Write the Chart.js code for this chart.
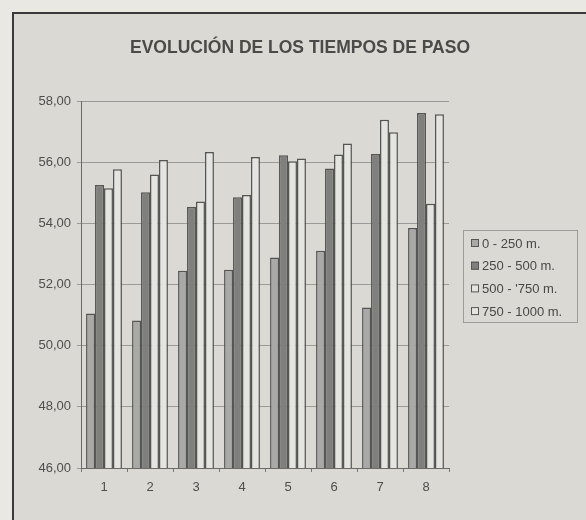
<!DOCTYPE html>
<html>
<head>
<meta charset="utf-8">
<script src="https://cdn.jsdelivr.net/npm/chart.js@4.4.0/dist/chart.umd.min.js"></script>
<style>
    html, body { margin: 0; padding: 0; background: #e9e8e3; }
    #wrap { width: 586px; height: 520px; }
</style>
</head>
<body>
<div id="wrap"><canvas id="tiemposChart" width="586" height="520"></canvas></div>
<script>
// -------------------------------------------------
// Chart data: passing times per 250 m split, 8 repetitions
// -------------------------------------------------
const chartTitle = 'EVOLUCIÓN DE LOS TIEMPOS DE PASO';
const categories = ['1', '2', '3', '4', '5', '6', '7', '8'];
const seriesNames = ['0 - 250 m.', '250 - 500 m.', "500 - '750 m.", '750 - 1000 m.'];
const tramo0_250 = [51.05, 50.82, 52.45, 52.48, 52.88, 53.10, 51.25, 53.85];
const tramo250_500 = [55.25, 55.02, 54.53, 54.85, 56.23, 55.79, 56.27, 57.61];
const tramo500_750 = [55.15, 55.60, 54.71, 54.93, 56.03, 56.25, 57.39, 54.64];
const tramo750_1000 = [55.77, 56.07, 56.33, 56.17, 56.12, 56.61, 56.98, 57.57];
const yTicks = [46, 48, 50, 52, 54, 56, 58];

const fills = ['#a9a9a7', '#7f7f7d', '#e4e4e0', '#e4e4e0'];
const edge = '#555553';
const fontFamily = 'Arial, "Liberation Sans", sans-serif';

// -------------------------------------------------
// Panel background and frame (scanned page look)
// -------------------------------------------------
const panelPlugin = {
    id: 'panel',
    beforeDraw(chart) {
        const c = chart.ctx;
        c.save();
        c.fillStyle = '#e9e8e3';
        c.fillRect(0, 0, chart.width, chart.height);
        c.fillStyle = '#dad9d4';
        c.fillRect(12, 12, chart.width - 12, chart.height);
        c.strokeStyle = '#3a3a3a';
        c.lineWidth = 2;
        c.strokeRect(13, 13, chart.width + 10, chart.height + 10);
        c.restore();
    }
};

// -------------------------------------------------
// Title centred on the whole frame (not only the plot)
// -------------------------------------------------
const frameTitlePlugin = {
    id: 'frameTitle',
    afterDraw(chart) {
        const c = chart.ctx;
        c.save();
        c.font = 'bold 17.5px ' + fontFamily;
        c.fillStyle = '#4a4a48';
        c.textAlign = 'center';
        c.textBaseline = 'middle';
        c.fillText(chartTitle, 300, 48);
        c.restore();
    }
};

// -------------------------------------------------
// Boxed legend on the right side
// -------------------------------------------------
const boxLegendPlugin = {
    id: 'boxLegend',
    afterDraw(chart) {
        const c = chart.ctx;
        const x = 463, y = 230, w = 114, h = 92;
        c.save();
        c.strokeStyle = '#9c9c9a';
        c.lineWidth = 1;
        c.strokeRect(x + 0.5, y + 0.5, w, h);
        c.font = '13px ' + fontFamily;
        c.textBaseline = 'middle';
        chart.data.datasets.forEach((ds, i) => {
            const cy = y + 13 + i * 22.7;
            c.fillStyle = ds.backgroundColor;
            c.fillRect(x + 8, cy - 4, 8, 8);
            c.strokeStyle = edge;
            c.strokeRect(x + 8.5, cy - 3.5, 7, 7);
            c.fillStyle = '#484846';
            c.fillText(ds.label, x + 19, cy + 1);
        });
        c.restore();
    }
};

const seriesValues = [tramo0_250, tramo250_500, tramo500_750, tramo750_1000];

new Chart(document.getElementById('tiemposChart').getContext('2d'), {
    type: 'bar',
    data: {
        labels: categories,
        datasets: seriesValues.map((vals, i) => ({
            label: seriesNames[i],
            data: vals,
            backgroundColor: fills[i],
            borderColor: edge,
            borderWidth: 1.5,
            categoryPercentage: 0.78,
            barPercentage: 1.0
        }))
    },
    options: {
        responsive: false,
        animation: false,
        layout: { padding: { left: 0, right: 137, top: 101, bottom: 0 } },
        plugins: {
            legend: { display: false },
            tooltip: { enabled: false },
            title: { display: false }
        },
        scales: {
            x: {
                grid: { drawOnChartArea: false, drawTicks: true, tickLength: 4, color: '#777775' },
                border: { color: '#6a6a68', width: 1 },
                ticks: {
                    color: '#4e4e4c',
                    padding: 8,
                    font: { family: fontFamily, size: 13 }
                },
                afterFit(scale) { scale.height = 52; }
            },
            y: {
                min: yTicks[0],
                max: yTicks[yTicks.length - 1],
                afterBuildTicks(scale) { scale.ticks = yTicks.map(v => ({ value: v })); },
                grid: { color: '#9a9a98', lineWidth: 1, tickLength: 4 },
                border: { color: '#6a6a68', width: 1 },
                ticks: {
                    color: '#4e4e4c',
                    padding: 6,
                    font: { family: fontFamily, size: 13 },
                    callback: v => v.toFixed(2).replace('.', ',')
                },
                afterFit(scale) { scale.width = 81; }
            }
        }
    },
    plugins: [panelPlugin, frameTitlePlugin, boxLegendPlugin]
});
</script>
</body>
</html>
